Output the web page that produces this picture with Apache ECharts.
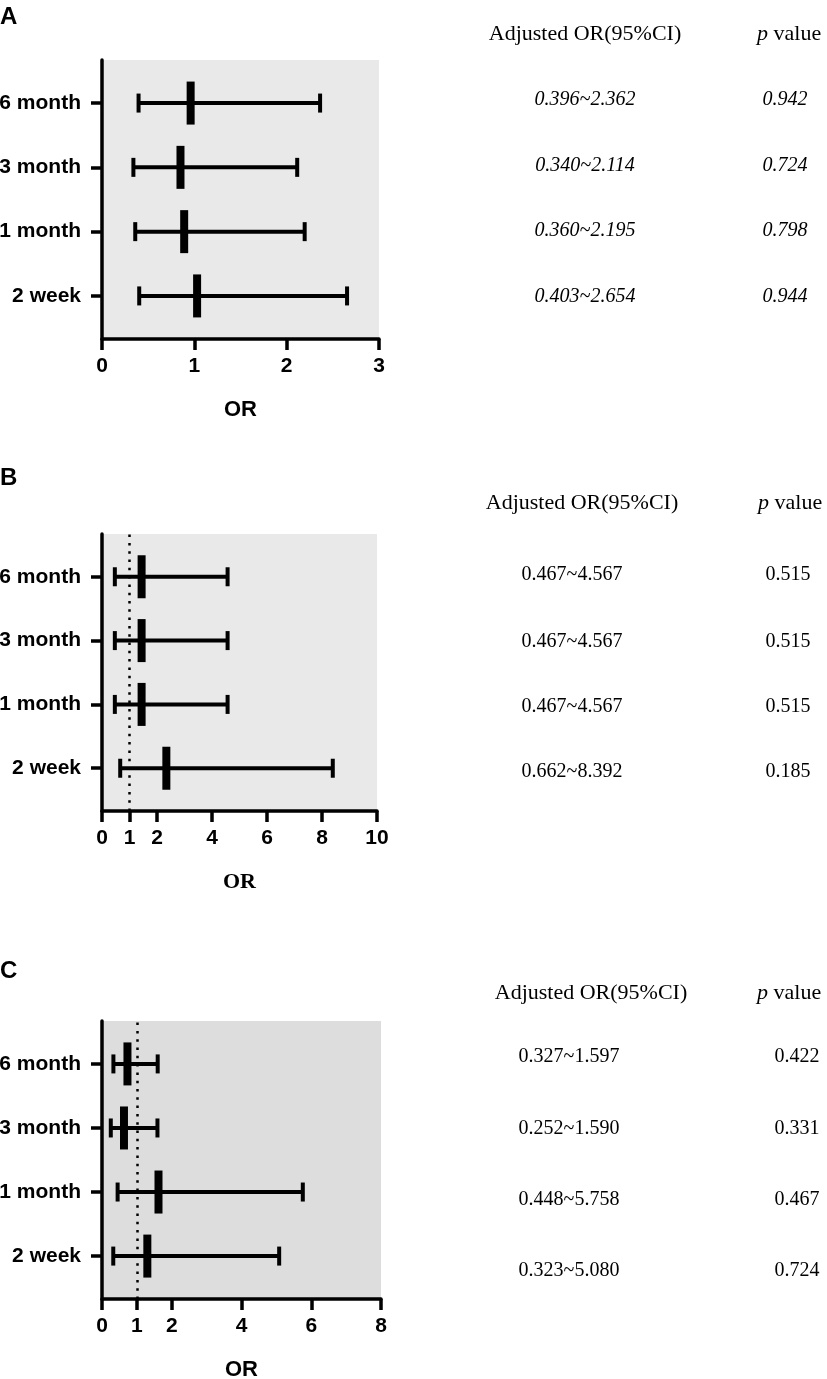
<!DOCTYPE html>
<html>
<head>
<meta charset="utf-8">
<title>Adjusted OR forest plots</title>
<script src="https://cdn.jsdelivr.net/npm/echarts@6/dist/echarts.min.js"></script>
<style>
  html, body { margin: 0; padding: 0; background: #fff; }
  #main { width: 827px; height: 1379px; }
</style>
</head>
<body>
<div id="main"></div>
<script type="text/javascript">
// rows from bottom to top
var categories = ['2 week', '1 month', '3 month', '6 month'];

// panel A
var orA = [1.03, 0.89, 0.85, 0.96];
var lowA = [0.403, 0.360, 0.340, 0.396];
var highA = [2.654, 2.195, 2.114, 2.362];
var pA = ['0.944', '0.798', '0.724', '0.942'];
var ticksA = [0, 1, 2, 3];

// panel B
var orB = [2.34, 1.44, 1.44, 1.44];
var lowB = [0.662, 0.467, 0.467, 0.467];
var highB = [8.392, 4.567, 4.567, 4.567];
var pB = ['0.185', '0.515', '0.515', '0.515'];
var ticksB = [0, 1, 2, 4, 6, 8, 10];

// panel C
var orC = [1.30, 1.62, 0.63, 0.73];
var lowC = [0.323, 0.448, 0.252, 0.327];
var highC = [5.080, 5.758, 1.590, 1.597];
var pC = ['0.724', '0.467', '0.331', '0.422'];
var ticksC = [0, 1, 2, 4, 6, 8];

var refLine = 1;

// layout of each panel (pixels)
var panels = [
    { key: 'A', or: orA, low: lowA, high: highA, p: pA, ticks: ticksA, max: 3, ref: false, italic: true,
      grid: { left: 102, top: 60, width: 277, height: 279 }, bg: '#e9e9e9', nameFont: 'Liberation Sans',
      letterY: 17, headY: 34, headX: 585, pHeadX: 757, rows: [297, 231, 166, 100], ciX: 585, pX: 785 },
    { key: 'B', or: orB, low: lowB, high: highB, p: pB, ticks: ticksB, max: 10, ref: true, italic: false,
      grid: { left: 102, top: 534, width: 275, height: 277 }, bg: '#e9e9e9', nameFont: 'Liberation Serif',
      letterY: 478, headY: 503, headX: 582, pHeadX: 758, rows: [772, 707, 642, 575], ciX: 572, pX: 788 },
    { key: 'C', or: orC, low: lowC, high: highC, p: pC, ticks: ticksC, max: 8, ref: true, italic: false,
      grid: { left: 102, top: 1021, width: 279, height: 278 }, bg: '#dddddd', nameFont: 'Liberation Sans',
      letterY: 971, headY: 993, headX: 591, pHeadX: 757, rows: [1271, 1200, 1129, 1057], ciX: 569, pX: 797 }
];

var myChart = echarts.init(document.getElementById('main'));

// CI line with end caps and a thick bar at the point estimate
function renderBar(params, api) {
    var y = api.value(0);
    var lo = api.coord([api.value(1), y]);
    var est = api.coord([api.value(2), y]);
    var hi = api.coord([api.value(3), y]);
    var st = { stroke: '#000', lineWidth: 4 };
    return {
        type: 'group',
        children: [
            { type: 'line', shape: { x1: lo[0], y1: lo[1], x2: hi[0], y2: hi[1] }, style: st },
            { type: 'line', shape: { x1: lo[0], y1: lo[1] - 9.5, x2: lo[0], y2: lo[1] + 9.5 }, style: st },
            { type: 'line', shape: { x1: hi[0], y1: hi[1] - 9.5, x2: hi[0], y2: hi[1] + 9.5 }, style: st },
            { type: 'rect', shape: { x: est[0] - 4, y: est[1] - 21.5, width: 8, height: 43 }, style: { fill: '#000' } }
        ]
    };
}

var grids = [], xAxes = [], yAxes = [], series = [], graphics = [];
var axisFont = { fontFamily: 'Liberation Sans', fontWeight: 'bold', fontSize: 21, color: '#000' };

panels.forEach(function (pn, i) {
    grids.push({
        left: pn.grid.left, top: pn.grid.top, width: pn.grid.width, height: pn.grid.height,
        show: true, backgroundColor: pn.bg, borderWidth: 0, outerBoundsMode: 'none'
    });
    xAxes.push({
        gridIndex: i, type: 'value', min: 0, max: pn.max,
        name: 'OR', nameLocation: 'middle', nameGap: 60,
        nameTextStyle: { fontFamily: pn.nameFont, fontWeight: 'bold', fontSize: 22, color: '#000' },
        splitLine: { show: false },
        axisLine: { onZero: false, lineStyle: { color: '#000', width: 3.5 } },
        axisTick: { length: 11, lineStyle: { color: '#000', width: 3.5 }, customValues: pn.ticks },
        axisLabel: Object.assign({ margin: 17, customValues: pn.ticks }, axisFont)
    });
    yAxes.push({
        gridIndex: i, type: 'value', min: -0.67, max: 3.67,
        splitLine: { show: false },
        axisLine: { show: true, onZero: false, lineStyle: { color: '#000', width: 3.5 } },
        axisTick: { show: true, length: 11, lineStyle: { color: '#000', width: 3.5 }, customValues: [0, 1, 2, 3] },
        axisLabel: Object.assign({
            margin: 21, customValues: [0, 1, 2, 3],
            formatter: function (v) { return categories[Math.round(v)] || ''; }
        }, axisFont)
    });
    var rows = categories.map(function (c, k) { return [k, pn.low[k], pn.or[k], pn.high[k]]; });
    series.push({
        type: 'custom', xAxisIndex: i, yAxisIndex: i, renderItem: renderBar,
        encode: { x: [1, 2, 3], y: 0 }, data: rows, z: 5
    });
    if (pn.ref) {
        series.push({
            type: 'line', xAxisIndex: i, yAxisIndex: i, data: [], z: 3,
            markLine: {
                silent: true, symbol: 'none', label: { show: false },
                lineStyle: { color: '#000', width: 2.5, type: [2.5, 5.8] },
                data: [{ xAxis: refLine }]
            }
        });
    }

    // panel letter and table texts
    graphics.push({ type: 'text', left: 0, top: pn.letterY - 12,
        style: { text: pn.key, font: 'bold 24px "Liberation Sans"', fill: '#000' } });
    graphics.push({ type: 'text', x: pn.headX, y: pn.headY,
        style: { text: 'Adjusted OR(95%CI)', font: '22px "Liberation Serif"', fill: '#000', align: 'center', verticalAlign: 'middle' } });
    graphics.push({ type: 'text', x: pn.pHeadX, y: pn.headY,
        style: { text: '{i|p} value', font: '22px "Liberation Serif"', fill: '#000', align: 'left', verticalAlign: 'middle',
            rich: { i: { fontStyle: 'italic', fontFamily: 'Liberation Serif', fontSize: 22 } } } });
    var st = pn.italic ? 'italic ' : '';
    categories.forEach(function (c, k) {
        graphics.push({ type: 'text', x: pn.ciX, y: pn.rows[k],
            style: { text: pn.low[k].toFixed(3) + '~' + pn.high[k].toFixed(3), font: st + '20px "Liberation Serif"',
                fill: '#000', align: 'center', verticalAlign: 'middle' } });
        graphics.push({ type: 'text', x: pn.pX, y: pn.rows[k],
            style: { text: pn.p[k], font: st + '20px "Liberation Serif"', fill: '#000', align: 'center', verticalAlign: 'middle' } });
    });
});

var option = {
    backgroundColor: '#fff',
    animation: false,
    grid: grids,
    xAxis: xAxes,
    yAxis: yAxes,
    series: series,
    graphic: graphics
};

myChart.setOption(option);
</script>
</body>
</html>
